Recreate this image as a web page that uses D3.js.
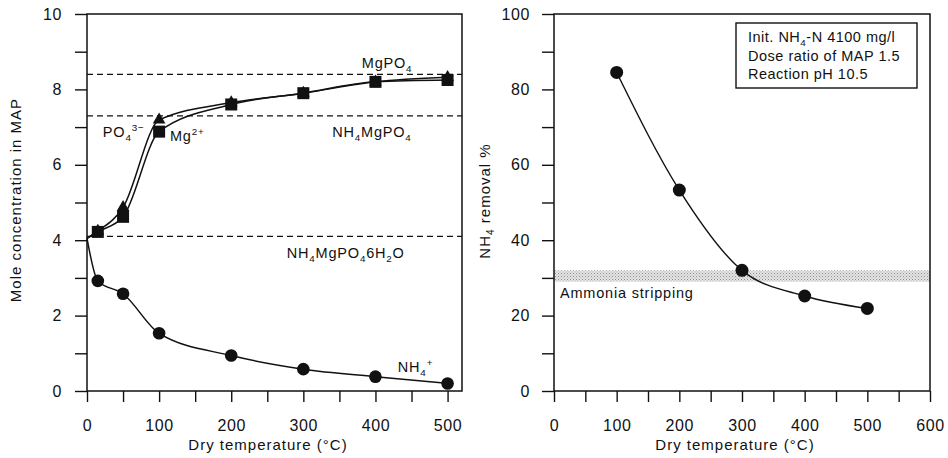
<!DOCTYPE html>
<html><head><meta charset="utf-8">
<script src="https://cdn.jsdelivr.net/npm/d3@7"></script>
<style>
body{margin:0;background:#fff;}
svg{display:block;font-family:"Liberation Sans",Arial,sans-serif;}
</style></head>
<body>
<svg id="chart" width="948" height="458"></svg>
<script>
// ---- Data ----
const tempsLeft = [0, 15, 50, 100, 200, 300, 400, 500];
const mgValues = [4.05, 4.22, 4.62, 6.88, 7.6, 7.9, 8.2, 8.25];   // squares (Mg2+)
const po4Values = [4.05, 4.24, 4.87, 7.19, 7.65, 7.9, 8.2, 8.32]; // triangles (PO4 3-)
const nh4Values = [4.05, 2.92, 2.58, 1.53, 0.94, 0.58, 0.38, 0.2]; // circles (NH4+)
const refLines = [8.4, 7.3, 4.1];
const leftYTicks = [0,1,2,3,4,5,6,7,8,9,10];
const leftXTicks = [0,50,100,150,200,250,300,350,400,450,500];

const tempsRight = [100, 200, 300, 400, 500];
const removalValues = [84.5, 53.3, 32, 25.2, 21.9];
const strippingBand = [29, 32];
const rightYTicks = [0,10,20,30,40,50,60,70,80,90,100];
const rightXTicks = [0,50,100,150,200,250,300,350,400,450,500,550,600];
const legendLines = [
  [["Init. NH",""],["4","sub"],["-N 4100 mg/l",""]],
  [["Dose ratio of MAP 1.5",""]],
  [["Reaction pH 10.5",""]]
];

// ---- Setup ----
const svg = d3.select("#chart");
const FS = 15;
const TFS = 16;
const ink = "#111";

function rich(sel, parts, size){
  let off = 0;
  parts.forEach(([t,k])=>{
    const ts = sel.append("tspan").text(t);
    let target = 0;
    if(k==="sub"){ target = size*0.28; ts.attr("font-size", size*0.68); }
    else if(k==="sup"){ target = -size*0.42; ts.attr("font-size", size*0.68); }
    ts.attr("dy", target-off);
    off = target;
  });
}

// pattern for stippled band
const defs = svg.append("defs");
const pat = defs.append("pattern").attr("id","stip").attr("width",3).attr("height",3).attr("patternUnits","userSpaceOnUse");
pat.append("rect").attr("width",3).attr("height",3).attr("fill","#e6e6e6");
pat.append("rect").attr("width",1).attr("height",1).attr("fill","#8a8a8a");
pat.append("rect").attr("x",1.5).attr("y",1.5).attr("width",1).attr("height",1).attr("fill","#a0a0a0");

function styleAxis(g){
  g.select(".domain").remove();
  g.selectAll(".tick line").attr("stroke",ink).attr("stroke-width",1.4);
  g.selectAll(".tick text").attr("font-size",TFS).attr("fill",ink).attr("letter-spacing",0.6)
    .attr("font-family","Liberation Sans, Arial, sans-serif");
}

// ---- Left panel ----
const xL = d3.scaleLinear().domain([0,520]).range([87,462]);
const yL = d3.scaleLinear().domain([0,10]).range([391,14]);
const gL = svg.append("g");

gL.append("g").attr("transform","translate(87,0)")
  .call(d3.axisLeft(yL).tickValues(leftYTicks).tickSize(12).tickSizeOuter(0).tickPadding(13)
    .tickFormat(d=> d%2===0 ? d : ""))
  .call(styleAxis);
gL.append("g").attr("transform","translate(0,391)")
  .call(d3.axisBottom(xL).tickValues(leftXTicks).tickSize(11).tickSizeOuter(0).tickPadding(18)
    .tickFormat(d=> d%100===0 ? d : ""))
  .call(styleAxis);

gL.append("rect").attr("x",xL(0)).attr("y",yL(10)).attr("width",xL(520)-xL(0)).attr("height",yL(0)-yL(10))
  .attr("fill","none").attr("stroke",ink).attr("stroke-width",1.5);

gL.selectAll("line.ref").data(refLines).join("line").attr("class","ref")
  .attr("x1",xL(0)).attr("x2",xL(520)).attr("y1",d=>yL(d)).attr("y2",d=>yL(d))
  .attr("stroke",ink).attr("stroke-width",1.2).attr("stroke-dasharray","6,4");

const lineL = vals => d3.line().curve(d3.curveMonotoneX)
  .x((d,i)=>xL(tempsLeft[i])).y(d=>yL(d))(vals);
[po4Values, mgValues, nh4Values].forEach(v=>{
  gL.append("path").attr("d",lineL(v)).attr("fill","none").attr("stroke",ink).attr("stroke-width",1.5);
});

const markIdx = d3.range(1, tempsLeft.length);
gL.selectAll("path.tri").data(markIdx).join("path").attr("class","tri")
  .attr("d", d3.symbol().type(d3.symbolTriangle).size(70)())
  .attr("transform", i=>`translate(${xL(tempsLeft[i])},${yL(po4Values[i])})`)
  .attr("fill",ink);
gL.selectAll("rect.sq").data(markIdx).join("rect").attr("class","sq")
  .attr("x", i=>xL(tempsLeft[i])-6).attr("y", i=>yL(mgValues[i])-6)
  .attr("width",12).attr("height",12).attr("fill",ink);
gL.selectAll("circle.nh").data(markIdx).join("circle").attr("class","nh")
  .attr("cx", i=>xL(tempsLeft[i])).attr("cy", i=>yL(nh4Values[i])).attr("r",6.3).attr("fill",ink);

const annots = [
  {x:381, y:8.57, parts:[["MgPO",""],["4","sub"]]},
  {x:340, y:6.74, parts:[["NH",""],["4","sub"],["MgPO",""],["4","sub"]]},
  {x:22, y:6.74, parts:[["PO",""],["4","sub"],["3−","sup"]]},
  {x:115, y:6.63, parts:[["Mg",""],["2+","sup"]]},
  {x:277, y:3.53, parts:[["NH",""],["4","sub"],["MgPO",""],["4","sub"],["6H",""],["2","sub"],["O",""]]},
  {x:431, y:0.5, parts:[["NH",""],["4","sub"],["+","sup"]]}
];
annots.forEach(a=>{
  const t = gL.append("text").attr("x",xL(a.x)).attr("y",yL(a.y)).attr("font-size",14.5)
    .attr("letter-spacing",0.8).attr("fill",ink);
  rich(t, a.parts, 14.5);
});

svg.append("text").attr("transform","translate(21,200) rotate(-90)").attr("text-anchor","middle")
  .attr("font-size",FS).attr("letter-spacing",1).attr("fill",ink).text("Mole concentration in MAP");
svg.append("text").attr("x",268).attr("y",450).attr("text-anchor","middle")
  .attr("font-size",FS).attr("letter-spacing",1).attr("fill",ink).text("Dry temperature (°C)");

// ---- Right panel ----
const xR = d3.scaleLinear().domain([0,600]).range([554,930]);
const yR = d3.scaleLinear().domain([0,100]).range([391,14]);
const gR = svg.append("g");

gR.append("rect").attr("x",xR(0)).attr("width",xR(600)-xR(0))
  .attr("y",yR(strippingBand[1])).attr("height",yR(strippingBand[0])-yR(strippingBand[1]))
  .attr("fill","url(#stip)");

gR.append("g").attr("transform","translate(554,0)")
  .call(d3.axisLeft(yR).tickValues(rightYTicks).tickSize(12).tickSizeOuter(0).tickPadding(12)
    .tickFormat(d=> d%20===0 ? d : ""))
  .call(styleAxis);
gR.append("g").attr("transform","translate(0,391)")
  .call(d3.axisBottom(xR).tickValues(rightXTicks).tickSize(11).tickSizeOuter(0).tickPadding(18)
    .tickFormat(d=> d%100===0 ? d : ""))
  .call(styleAxis);

gR.append("rect").attr("x",xR(0)).attr("y",yR(100)).attr("width",xR(600)-xR(0)).attr("height",yR(0)-yR(100))
  .attr("fill","none").attr("stroke",ink).attr("stroke-width",1.5);

const lineR = d3.line().curve(d3.curveMonotoneX).x((d,i)=>xR(tempsRight[i])).y(d=>yR(d));
gR.append("path").attr("d",lineR(removalValues)).attr("fill","none").attr("stroke",ink).attr("stroke-width",1.4);
gR.selectAll("circle").data(removalValues).join("circle")
  .attr("cx",(d,i)=>xR(tempsRight[i])).attr("cy",d=>yR(d)).attr("r",6.5).attr("fill",ink);

gR.append("text").attr("x",560).attr("y",298).attr("font-size",14.5).attr("letter-spacing",0.8)
  .attr("fill",ink).text("Ammonia stripping");

gR.append("rect").attr("x",736).attr("y",23).attr("width",181).attr("height",65)
  .attr("fill","#fff").attr("stroke",ink).attr("stroke-width",1.4);
legendLines.forEach((parts,i)=>{
  const t = gR.append("text").attr("x",748).attr("y",42+i*18.5).attr("font-size",14.5)
    .attr("letter-spacing",0.5).attr("fill",ink);
  rich(t, parts, 14.5);
});

svg.append("text").attr("transform","translate(490,201) rotate(-90)").attr("text-anchor","middle")
  .attr("font-size",FS).attr("letter-spacing",1).attr("fill",ink)
  .call(t=>rich(t,[["NH",""],["4","sub"],[" removal %",""]],FS));
svg.append("text").attr("x",735).attr("y",450).attr("text-anchor","middle")
  .attr("font-size",FS).attr("letter-spacing",1).attr("fill",ink).text("Dry temperature (°C)");
</script>
</body></html>
